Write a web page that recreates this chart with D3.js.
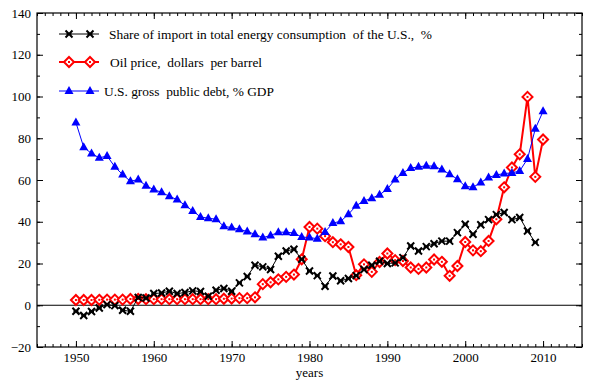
<!DOCTYPE html>
<html>
<head>
<meta charset="utf-8">
<script src="https://cdn.jsdelivr.net/npm/d3@7"></script>
<style>
  body { margin: 0; background: #fff; }
  svg text { font-family: "Liberation Serif", "Times New Roman", "DejaVu Serif", serif; font-size: 13px; fill: #000; }
</style>
</head>
<body>
<svg id="chart" width="590" height="382"></svg>
<script>
// data
const years = d3.range(1950, 2011);

const importShare = [
  -2.9, -4.9, -3.0, -1.3, 0.3, -0.2, -2.4, -2.9, 3.7, 3.5,
  5.6, 5.9, 6.7, 5.6, 6.1, 6.9, 6.6, 4.3, 7.2, 8.0,
  6.7, 10.7, 13.8, 19.2, 18.4, 17.1, 23.5, 26.0, 26.8, 22.0,
  16.4, 14.2, 9.1, 14.0, 11.7, 12.8, 14.2, 17.1, 19.2, 21.1,
  20.0, 20.3, 22.8, 28.4, 26.0, 28.1, 29.5, 30.7, 30.7, 34.8,
  38.8, 34.0, 38.6, 41.0, 43.4, 44.4, 41.0, 42.0, 35.6, 30.1
];

const oilPrice = [
  2.5, 2.5, 2.5, 2.6, 2.7, 2.7, 2.7, 3.0, 3.0, 2.9,
  2.9, 2.9, 2.9, 2.9, 2.9, 2.9, 2.9, 2.9, 2.9, 3.1,
  3.2, 3.4, 3.4, 3.8, 10.1, 11.0, 12.4, 13.6, 14.7, 22.0,
  37.5, 36.7, 33.1, 30.2, 29.2, 27.9, 14.4, 19.6, 16.0, 20.7,
  24.8, 21.6, 21.2, 18.1, 17.4, 18.1, 21.9, 20.8, 14.1, 18.8,
  30.3, 26.3, 25.9, 30.8, 41.2, 56.5, 66.0, 72.3, 99.8, 61.5,
  79.4
];

const publicDebt = [
  87.5, 75.7, 72.7, 70.6, 71.5, 66.3, 62.6, 59.4, 60.2, 57.2,
  55.4, 54.1, 52.2, 50.6, 47.9, 45.2, 42.3, 41.7, 41.2, 37.8,
  37.2, 36.4, 35.3, 34.0, 32.4, 33.4, 35.0, 35.0, 34.6, 32.7,
  32.4, 31.9, 35.1, 39.4, 40.2, 43.6, 47.7, 50.0, 51.3, 52.9,
  55.7, 60.2, 63.4, 65.7, 66.3, 66.8, 66.6, 65.0, 62.8, 60.4,
  57.0, 56.5, 58.8, 61.2, 62.4, 63.1, 63.4, 64.3, 70.1, 84.5,
  92.9
];

const legendLabels = [
  "Share of import in total energy consumption\u00a0 of the U.S.,\u00a0 %",
  "Oil price,\u00a0 dollars\u00a0 per barrel",
  "U.S. gross\u00a0 public debt, % GDP"
];

const FONT = '"Liberation Serif", "Times New Roman", "DejaVu Serif", serif';

const svg = d3.select("#chart");

const x = d3.scaleLinear().domain([1945, 2015]).range([37, 582]);
const y = d3.scaleLinear().domain([-20, 140]).range([347, 13]);

const plotL = 37, plotR = 582, plotT = 13, plotB = 347;

// frame
svg.append("rect")
  .attr("x", plotL).attr("y", plotT)
  .attr("width", plotR - plotL).attr("height", plotB - plotT)
  .attr("fill", "none").attr("stroke", "#000").attr("stroke-width", 1.2);

// minor ticks
const yMinor = d3.range(-20, 141, 10);
const xMinor = d3.range(1945, 2016, 1);

function tickGroup(axis, tr) {
  const g = svg.append("g").attr("transform", tr).call(axis)
    .attr("font-family", FONT).attr("font-size", 13);
  g.select(".domain").remove();
  return g;
}

tickGroup(d3.axisLeft(y).tickValues(yMinor).tickSize(-3).tickFormat(""), `translate(${plotL},0)`);
tickGroup(d3.axisRight(y).tickValues(yMinor).tickSize(-3).tickFormat(""), `translate(${plotR},0)`);
tickGroup(d3.axisBottom(x).tickValues(xMinor).tickSize(-3).tickFormat(""), `translate(0,${plotB})`);
tickGroup(d3.axisTop(x).tickValues(xMinor).tickSize(-3).tickFormat(""), `translate(0,${plotT})`);

// major ticks + labels
tickGroup(d3.axisLeft(y).tickValues(d3.range(-20, 141, 20)).tickSize(-6).tickPadding(6),
  `translate(${plotL},0)`);
tickGroup(d3.axisRight(y).tickValues(d3.range(-20, 141, 20)).tickSize(-6).tickFormat(""),
  `translate(${plotR},0)`);
tickGroup(d3.axisBottom(x).tickValues(d3.range(1950, 2011, 10)).tickSize(-6).tickPadding(6)
  .tickFormat(d3.format("d")), `translate(0,${plotB})`);
tickGroup(d3.axisTop(x).tickValues(d3.range(1950, 2011, 10)).tickSize(-6).tickFormat(""),
  `translate(0,${plotT})`);

svg.selectAll(".tick line").attr("stroke", "#000");
svg.selectAll(".tick text").style("font-family", FONT).style("font-size", "13px");

// zero line
svg.append("line")
  .attr("x1", plotL).attr("x2", plotR)
  .attr("y1", y(0)).attr("y2", y(0))
  .attr("stroke", "#000").attr("stroke-width", 1.2);

svg.append("text")
  .attr("x", (plotL + plotR) / 2).attr("y", 377)
  .attr("text-anchor", "middle")
  .style("font-family", FONT)
  .text("years");

// markers
function drawCross(g, cx, cy) {
  g.append("path")
    .attr("d", `M${cx - 3.5},${cy - 3.5}L${cx + 3.5},${cy + 3.5}M${cx - 3.5},${cy + 3.5}L${cx + 3.5},${cy - 3.5}M${cx - 2.5},${cy}L${cx + 2.5},${cy}`)
    .attr("stroke", "#000").attr("stroke-width", 2).attr("fill", "none");
}
function drawDiamond(g, cx, cy) {
  g.append("path")
    .attr("d", `M${cx},${cy - 5}L${cx + 5},${cy}L${cx},${cy + 5}L${cx - 5},${cy}Z`)
    .attr("stroke", "#f00").attr("stroke-width", 2).attr("fill", "#fff");
  g.append("rect")
    .attr("x", cx - 1).attr("y", cy - 1).attr("width", 2).attr("height", 2)
    .attr("fill", "#f00");
}
function drawTriangle(g, cx, cy) {
  g.append("path")
    .attr("d", `M${cx},${cy - 5}L${cx + 4.5},${cy + 3}L${cx - 4.5},${cy + 3}Z`)
    .attr("fill", "#00f");
}

const series = [
  { vals: oilPrice, color: "#f00", width: 2, marker: drawDiamond },
  { vals: importShare, color: "#000", width: 1, marker: drawCross },
  { vals: publicDebt, color: "#00f", width: 1, marker: drawTriangle }
];

const line = d3.line().x(d => x(d[0])).y(d => y(d[1]));

series.forEach(s => {
  const pts = s.vals.map((v, i) => [years[i], v]);
  const g = svg.append("g");
  g.append("path")
    .attr("d", line(pts))
    .attr("fill", "none")
    .attr("stroke", s.color)
    .attr("stroke-width", s.width);
  pts.forEach(p => s.marker(g, x(p[0]), y(p[1])));
});

// legend
const legY = [34, 62, 91];
const legTextX = [109, 110, 104];
[series[1], series[0], series[2]].forEach((s, i) => {
  const g = svg.append("g");
  g.append("line")
    .attr("x1", 59).attr("x2", 99)
    .attr("y1", legY[i]).attr("y2", legY[i])
    .attr("stroke", s.color).attr("stroke-width", s.width);
  s.marker(g, 69, legY[i]);
  s.marker(g, 90, legY[i]);
  g.append("text")
    .attr("x", legTextX[i]).attr("y", legY[i] + 4.5)
    .style("font-family", FONT)
    .style("font-size", "13.4px")
    .text(legendLabels[i]);
});
</script>
</body>
</html>
